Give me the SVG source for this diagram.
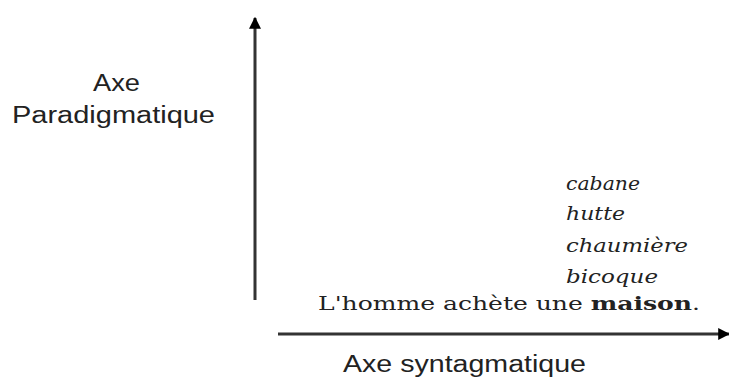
<svg xmlns="http://www.w3.org/2000/svg" width="729" height="382" viewBox="0 0 729 382">
<style>
.sans{font-family:"Liberation Sans",Arial,sans-serif;font-size:23px;fill:#222}
.it{font-family:"DejaVu Serif","Liberation Serif",serif;font-style:italic;font-size:19px;fill:#222}
.ser{font-family:"DejaVu Serif","Liberation Serif",serif;font-size:19px;fill:#222}
.ax{stroke:#333;stroke-width:3;fill:none}
</style>
<defs>
<marker id="ah" viewBox="0 0 10 10" refX="9" refY="5" markerWidth="4" markerHeight="4" orient="auto" markerUnits="strokeWidth">
<path d="M0,0 L10,5 L0,10 z" fill="#000"/>
</marker>
</defs>
<g id="connectors">
<line class="ax" x1="255" y1="300" x2="255" y2="18" marker-end="url(#ah)"/>
<line class="ax" x1="278" y1="334" x2="729" y2="334" marker-end="url(#ah)"/>
</g>
<g id="label-paradigmatique">
<text class="sans" x="93" y="91" textLength="47" lengthAdjust="spacingAndGlyphs">Axe</text>
<text class="sans" x="12" y="123" textLength="203" lengthAdjust="spacingAndGlyphs">Paradigmatique</text>
</g>
<g id="words">
<text class="it" x="566" y="190" textLength="74" lengthAdjust="spacingAndGlyphs">cabane</text>
<text class="it" x="566" y="220" textLength="59" lengthAdjust="spacingAndGlyphs">hutte</text>
<text class="it" x="566" y="252" textLength="122" lengthAdjust="spacingAndGlyphs">chaumière</text>
<text class="it" x="566" y="283" textLength="92" lengthAdjust="spacingAndGlyphs">bicoque</text>
</g>
<g id="sentence">
<text class="ser" x="318" y="310" textLength="382" lengthAdjust="spacingAndGlyphs">L'homme achète une <tspan font-weight="bold">maison</tspan>.</text>
</g>
<g id="label-syntagmatique">
<text class="sans" x="343" y="372" textLength="243" lengthAdjust="spacingAndGlyphs">Axe syntagmatique</text>
</g>
</svg>
